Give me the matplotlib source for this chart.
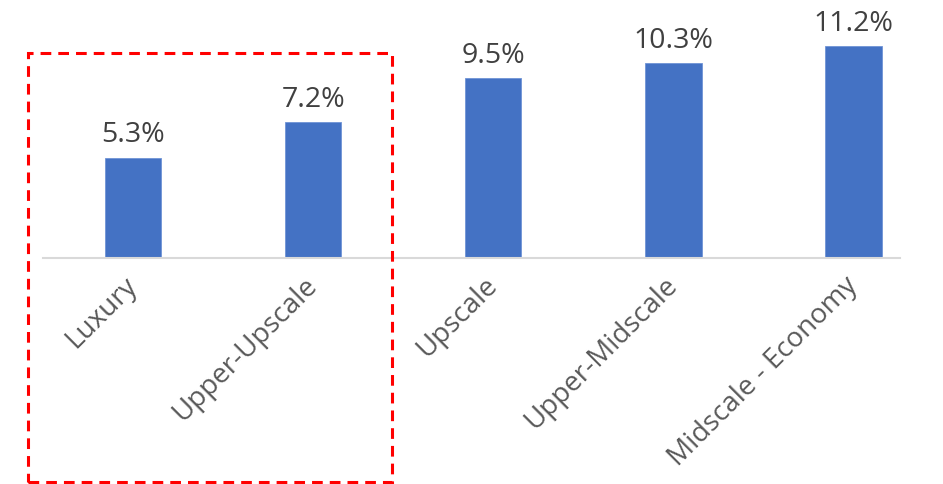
#!/usr/bin/env python3
"""Bar chart of growth by hotel chain scale, upper tiers boxed."""

import matplotlib

matplotlib.use("Agg")
import matplotlib.pyplot as plt
from matplotlib.patches import Rectangle


categories = ["Luxury", "Upper-Upscale", "Upscale", "Upper-Midscale", "Midscale - Economy"]
values = [5.3, 7.2, 9.5, 10.3, 11.2]
value_labels = ["5.3%", "7.2%", "9.5%", "10.3%", "11.2%"]

BAR_COLOR = "#4472C4"
W, H = 943, 484


def main() -> int:
    plt.rcParams["font.family"] = ["Open Sans", "DejaVu Sans"]
    fig = plt.figure(figsize=(W / 100, H / 100), dpi=100)

    # axes placed in pixel terms: baseline at y=258, 18.9 px per percent
    left, right = 43, 900
    base, ppu, ymax = 258, 18.9, 12.0
    ax = fig.add_axes([left / W, 1 - base / H, (right - left) / W, ymax * ppu / H])

    x = list(range(len(categories)))
    ax.bar(x, values, width=0.315, color=BAR_COLOR, edgecolor="#6F93D6", linewidth=0.6, zorder=2)
    ax.set_xlim(-0.5, 4.26)
    ax.set_ylim(0, ymax)

    for xi, v, lab in zip(x, values, value_labels):
        ax.annotate(lab, (xi, v), xytext=(0, 6), textcoords="offset points",
                    ha="center", va="bottom", fontsize=20.5, color="#404040")

    for side in ("top", "right", "left"):
        ax.spines[side].set_visible(False)
    ax.spines["bottom"].set_color("#D9D9D9")
    ax.spines["bottom"].set_linewidth(1.5)
    ax.set_yticks([])
    ax.set_xticks(x)
    ax.set_xticklabels(categories, rotation=45, ha="right", va="center",
                       rotation_mode="anchor", fontsize=20, color="#595959")
    ax.tick_params(axis="x", length=0, pad=17)

    # dashed red box around the first two categories
    fig.patches.append(Rectangle((28 / W, 1 - 482 / H), (392 - 28) / W, (482 - 53) / H,
                                 transform=fig.transFigure, fill=False,
                                 edgecolor="#FF0000", linewidth=2.2,
                                 linestyle=(0, (3.5, 2.3)), zorder=5))

    fig.savefig("out.png", dpi=100)
    plt.close(fig)
    return 0


if __name__ == "__main__":
    raise SystemExit(main())
